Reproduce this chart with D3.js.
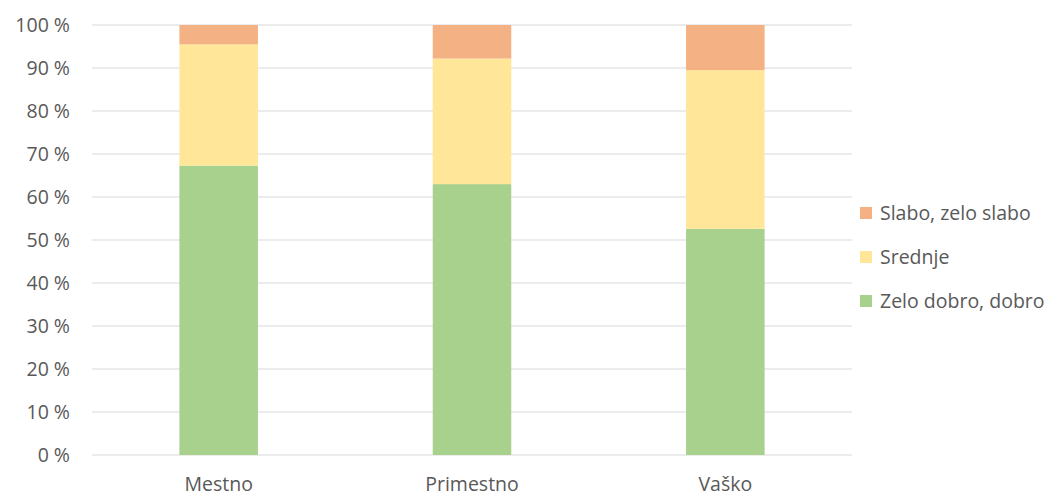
<!DOCTYPE html>
<html>
<head>
<meta charset="utf-8">
<script src="https://cdn.jsdelivr.net/npm/d3@7"></script>
<style>
  body { margin: 0; background: #fff; }
  text { font-family: "Open Sans", sans-serif; fill: #595959; }
</style>
</head>
<body>
<svg></svg>
<script>
var categories = ["Mestno", "Primestno", "Vaško"];
var seriesNames = ["Zelo dobro, dobro", "Srednje", "Slabo, zelo slabo"];
var zeloDobro = [67.3, 63.0, 52.6];
var srednje = [28.2, 29.2, 36.9];
var slabo = [4.5, 7.8, 10.5];
var yTicks = [0, 10, 20, 30, 40, 50, 60, 70, 80, 90, 100];
var colors = ["#A9D18E", "#FFE699", "#F4B183"];

var svgWidth = 1058, svgHeight = 496;
var svg = d3.select("svg").attr("width", svgWidth).attr("height", svgHeight);

var plotLeft = 92, plotRight = 852, plotTop = 25, plotBottom = 455;
var fontSize = 19.5;

var x = d3.scaleBand().domain(categories).range([plotLeft, plotRight]).paddingInner(0.69).paddingOuter(0.345);
var y = d3.scaleLinear().domain([0, 100]).range([plotBottom, plotTop]);

// gridlines
svg.selectAll("line.grid").data(yTicks).enter()
    .append("line")
    .attr("class", "grid")
    .attr("x1", plotLeft).attr("x2", plotRight)
    .attr("y1", function (d) { return y(d); })
    .attr("y2", function (d) { return y(d); })
    .attr("stroke", "#D9D9D9")
    .attr("stroke-width", 1);

svg.selectAll("text.ytick").data(yTicks).enter()
    .append("text")
    .attr("class", "ytick")
    .attr("x", 70)
    .attr("y", function (d) { return y(d); })
    .attr("dy", "0.35em")
    .attr("text-anchor", "end")
    .attr("font-size", fontSize)
    .text(function (d) { return d + " %"; });

// stacked bars
var rows = categories.map(function (c, i) {
    return { cat: c, a: zeloDobro[i], b: srednje[i], c: slabo[i] };
});
var stack = d3.stack().keys(["a", "b", "c"]);
var layers = stack(rows);

svg.selectAll("g.layer").data(layers).enter()
    .append("g")
    .attr("class", "layer")
    .attr("fill", function (d, i) { return colors[i]; })
    .selectAll("rect").data(function (d) { return d; }).enter()
    .append("rect")
    .attr("x", function (d) { return x(d.data.cat); })
    .attr("width", x.bandwidth())
    .attr("y", function (d) { return y(d[1]); })
    .attr("height", function (d) { return y(d[0]) - y(d[1]); });

// x labels
svg.selectAll("text.xcat").data(categories).enter()
    .append("text")
    .attr("class", "xcat")
    .attr("x", function (d) { return x(d) + x.bandwidth() / 2; })
    .attr("y", 491)
    .attr("text-anchor", "middle")
    .attr("font-size", fontSize)
    .text(function (d) { return d; });

// legend (top entry = last series)
var legendOrder = [2, 1, 0];
var legend = svg.selectAll("g.legend").data(legendOrder).enter()
    .append("g")
    .attr("class", "legend")
    .attr("transform", function (d, i) { return "translate(860," + (213 + i * 44) + ")"; });
legend.append("rect")
    .attr("x", 0).attr("y", -6)
    .attr("width", 12).attr("height", 12)
    .attr("fill", function (d) { return colors[d]; });
legend.append("text")
    .attr("x", 20)
    .attr("dy", "0.35em")
    .attr("font-size", fontSize)
    .text(function (d) { return seriesNames[d]; });
</script>
</body>
</html>
